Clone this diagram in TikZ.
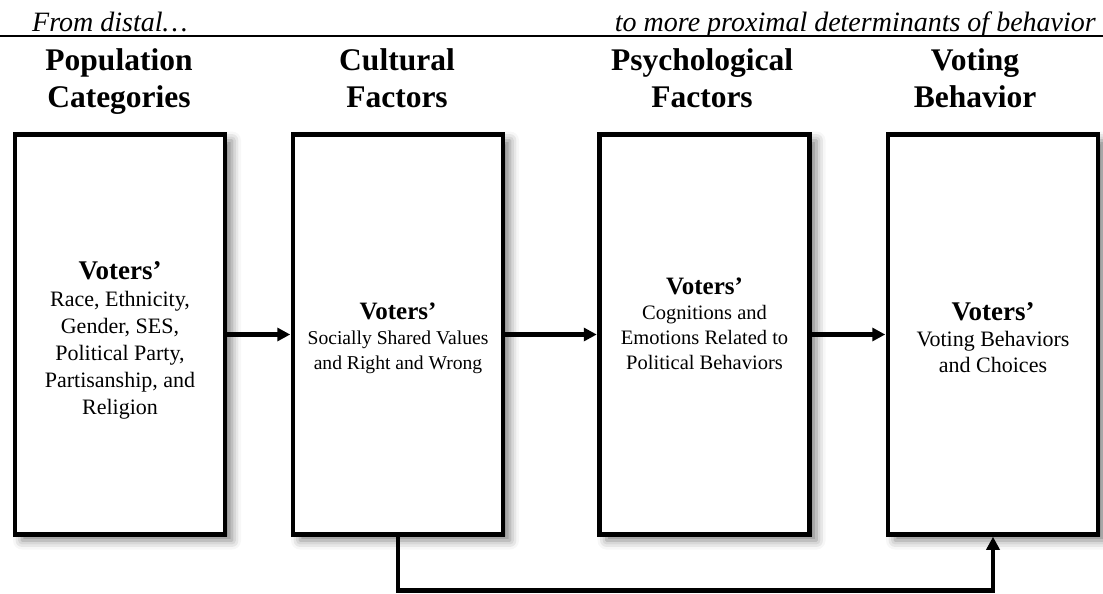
\documentclass[tikz,border=0pt]{standalone}
\usepackage{fontspec}
\setmainfont{Liberation Serif}
\usetikzlibrary{arrows.meta,shadows.blur}
\newcommand\headstrut{\rule[-8pt]{0pt}{32pt}}
\tikzset{
  stagebox/.style={draw=black, line width=4.5pt, fill=white, minimum width=210pt, minimum height=400pt, inner sep=0pt,
    blur shadow={shadow xshift=7pt, shadow yshift=-6pt, shadow blur radius=9pt, shadow opacity=50}},
  headtxt/.style={align=center, inner sep=0pt, font=\fontsize{31.5}{37}\selectfont\bfseries},
  toptxt/.style={inner sep=0pt, font=\fontsize{28}{30}\selectfont\itshape},
  bodytxt/.style={align=center, inner sep=0pt},
  conn/.style={line width=4.5pt, -{Triangle[length=13pt,width=13pt]}, shorten >=0.5pt},
}
\begin{document}
\begin{tikzpicture}[x=1pt,y=-1pt]
\useasboundingbox (0,0) rectangle (1103,594);
% top rule and labels
\coordinate (ruleL) at (0,36);
\coordinate (ruleR) at (1103,36);
\draw[line width=1.6pt] (ruleL) -- (ruleR);
\node[toptxt, anchor=base west] (from) at (32,32) {From distal…};
\node[toptxt, anchor=base east] (to) at (1096,32) {to more proximal determinants of behavior};
% headings
\node[headtxt] (h1) at (119,80.5) {\headstrut Population\\\headstrut Categories};
\node[headtxt] (h2) at (397,80.5) {\headstrut Cultural\\\headstrut Factors};
\node[headtxt] (h3) at (702,80.5) {\headstrut Psychological\\\headstrut Factors};
\node[headtxt] (h4) at (975,80.5) {\headstrut Voting\\\headstrut Behavior};
% boxes
\node[stagebox] (b1) at (120,334.5) {};
\node[stagebox] (b2) at (398,334.5) {};
\node[stagebox] (b3) at (704.5,334.5) {};
\node[stagebox] (b4) at (993,334.5) {};
% box texts
\node[bodytxt, font=\fontsize{22}{27}\selectfont] (t1) at (120,340)
  {{\fontsize{27}{27}\selectfont\bfseries Voters’}\\Race, Ethnicity,\\Gender, SES,\\Political Party,\\Partisanship, and\\Religion};
\node[bodytxt, font=\fontsize{19.6}{25}\selectfont] (t2) at (398,338)
  {{\fontsize{25}{25}\selectfont\bfseries Voters’}\\Socially Shared Values\\and Right and Wrong};
\node[bodytxt, font=\fontsize{20.5}{25}\selectfont] (t3) at (704.5,324)
  {{\fontsize{25}{25}\selectfont\bfseries Voters’}\\Cognitions and\\Emotions Related to\\Political Behaviors};
\node[bodytxt, font=\fontsize{22}{26}\selectfont] (t4) at (993,338)
  {{\fontsize{27}{27}\selectfont\bfseries Voters’}\\Voting Behaviors\\and Choices};
% connectors
\draw[conn] (b1.east) -- (b2.west);
\draw[conn] (b2.east) -- (b3.west);
\draw[conn] (b3.east) -- (b4.west);
\coordinate (low) at (0,590.5);
\draw[line width=4.5pt, -{Triangle[length=13pt,width=13pt]}] (b2.south) -- (b2.south |- low) -| (b4.south);
\end{tikzpicture}
\end{document}
